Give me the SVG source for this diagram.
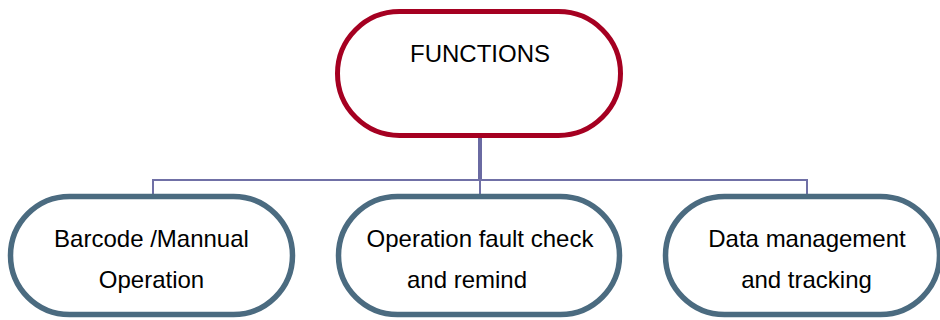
<svg xmlns="http://www.w3.org/2000/svg" width="940" height="320" viewBox="0 0 940 320">
<style>
.top{fill:#fff;stroke:#A50021;stroke-width:5}
.box{fill:#fff;stroke:#4B6B80;stroke-width:5.5}
.t{font-family:"Liberation Sans",Arial,sans-serif;font-size:24px;fill:#000;text-anchor:middle}
.c{fill:none;stroke:#7070A6;stroke-width:2}
</style>
<rect width="940" height="320" fill="#fff"/>
<g id="connectors">
<line x1="480" y1="137" x2="480" y2="180" stroke="#6A6AA2" stroke-width="4"/>
<polyline class="c" points="153,195 153,180 807,180 807,195"/>
<line class="c" x1="480" y1="180" x2="480" y2="195"/>
</g>
<g id="functions">
<rect class="top" x="337.5" y="11.5" width="283" height="124" rx="62" ry="62"/>
<text class="t" x="480" y="62">FUNCTIONS</text>
</g>
<g id="barcode">
<rect class="box" x="10.5" y="196.5" width="282" height="118" rx="59" ry="59"/>
<text class="t" x="151.5" y="247">Barcode /Mannual</text>
<text class="t" x="151.5" y="288">Operation</text>
</g>
<g id="fault">
<rect class="box" x="338.5" y="196.5" width="281" height="118" rx="59" ry="59"/>
<text class="t" x="480" y="247">Operation fault check</text>
<text class="t" x="467" y="288">and remind</text>
</g>
<g id="data">
<rect class="box" x="665.5" y="196.5" width="274" height="118" rx="59" ry="59"/>
<text class="t" x="807" y="247">Data management</text>
<text class="t" x="806.5" y="288">and tracking</text>
</g>
</svg>
